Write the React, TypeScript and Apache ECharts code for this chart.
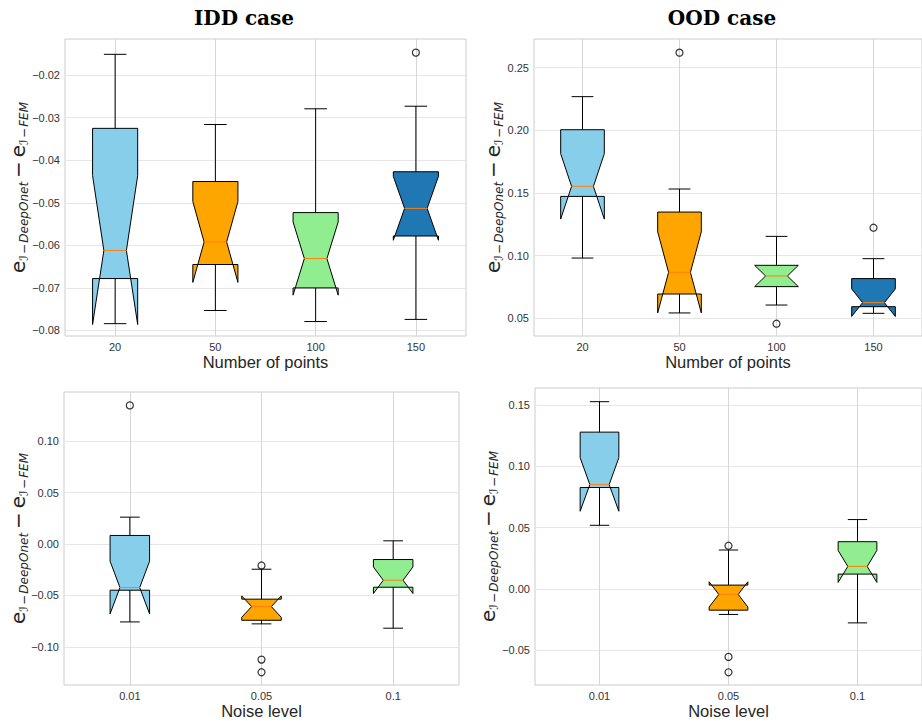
import React, { useEffect, useRef } from 'react';
import * as echarts from 'echarts';

// ---------- categories ----------
const pointCategories = ['20', '50', '100', '150'];
const noiseCategories = ['0.01', '0.05', '0.1'];
const pointColors = ['#87ceeb', '#ffa500', '#90ee90', '#1f77b4'];
const noiseColors = ['#87ceeb', '#ffa500', '#90ee90'];

// ---------- IDD case, number of points ----------
const iddPtsWhiskerLow = [-0.0784, -0.0753, -0.0779, -0.0774];
const iddPtsQ1 = [-0.0678, -0.0645, -0.0700, -0.0578];
const iddPtsMedian = [-0.0612, -0.0592, -0.0631, -0.0513];
const iddPtsQ3 = [-0.0325, -0.0450, -0.0523, -0.0427];
const iddPtsWhiskerHigh = [-0.0151, -0.0316, -0.0279, -0.0273];
const iddPtsNotchLow = [-0.0786, -0.0687, -0.0717, -0.0588];
const iddPtsNotchHigh = [-0.0436, -0.0497, -0.0545, -0.0438];
const iddPtsOutliers = [[], [], [], [-0.0147]];
const iddPtsTicks = [-0.08, -0.07, -0.06, -0.05, -0.04, -0.03, -0.02];

// ---------- OOD case, number of points ----------
const oodPtsWhiskerLow = [0.0981, 0.0543, 0.0606, 0.0540];
const oodPtsQ1 = [0.1473, 0.0694, 0.0753, 0.0593];
const oodPtsMedian = [0.1553, 0.0867, 0.0838, 0.0625];
const oodPtsQ3 = [0.2005, 0.1348, 0.0923, 0.0817];
const oodPtsWhiskerHigh = [0.2269, 0.1532, 0.1154, 0.0976];
const oodPtsNotchLow = [0.1292, 0.0543, 0.0753, 0.0515];
const oodPtsNotchHigh = [0.1814, 0.1191, 0.0923, 0.0735];
const oodPtsOutliers = [[], [0.2620], [0.0457], [0.1223]];
const oodPtsTicks = [0.05, 0.10, 0.15, 0.20, 0.25];

// ---------- IDD case, noise level ----------
const iddNoiseWhiskerLow = [-0.0757, -0.0776, -0.0818];
const iddNoiseQ1 = [-0.0449, -0.0741, -0.0420];
const iddNoiseMedian = [-0.0423, -0.0608, -0.0352];
const iddNoiseQ3 = [0.0083, -0.0536, -0.0151];
const iddNoiseWhiskerHigh = [0.0261, -0.0245, 0.0031];
const iddNoiseNotchLow = [-0.0679, -0.0712, -0.0481];
const iddNoiseNotchHigh = [-0.0167, -0.0504, -0.0223];
const iddNoiseOutliers = [[0.1347], [-0.0209, -0.1123, -0.1246], []];
const iddNoiseTicks = [-0.10, -0.05, 0.0, 0.05, 0.10];

// ---------- OOD case, noise level ----------
const oodNoiseWhiskerLow = [0.0519, -0.0210, -0.0279];
const oodNoiseQ1 = [0.0828, -0.0175, 0.0120];
const oodNoiseMedian = [0.0852, -0.0046, 0.0183];
const oodNoiseQ3 = [0.1281, 0.0030, 0.0385];
const oodNoiseWhiskerHigh = [0.1530, 0.0317, 0.0566];
const oodNoiseNotchLow = [0.0634, -0.0149, 0.0052];
const oodNoiseNotchHigh = [0.1072, 0.0057, 0.0313];
const oodNoiseOutliers = [[], [0.0352, -0.0557, -0.0683], []];
const oodNoiseTicks = [-0.05, 0.0, 0.05, 0.10, 0.15];

const titles = ['IDD case', 'OOD case'];
const xNames = ['Number of points', 'Noise level'];

type Panel = {
  cats: string[];
  colors: string[];
  low: number[]; q1: number[]; med: number[]; q3: number[]; high: number[];
  nlo: number[]; nhi: number[];
  outliers: number[][];
  ticks: number[];
  yMin: number; yMax: number;
  xName: string;
  boxWidth: number;
  grid: { left: number; top: number; width: number; height: number };
  labelX: number;
};

const panels: Panel[] = [
  {
    cats: pointCategories, colors: pointColors,
    low: iddPtsWhiskerLow, q1: iddPtsQ1, med: iddPtsMedian, q3: iddPtsQ3, high: iddPtsWhiskerHigh,
    nlo: iddPtsNotchLow, nhi: iddPtsNotchHigh, outliers: iddPtsOutliers, ticks: iddPtsTicks,
    yMin: -0.0813, yMax: -0.0115, xName: xNames[0], boxWidth: 0.45,
    grid: { left: 65, top: 39, width: 401, height: 297 }, labelX: 17.5,
  },
  {
    cats: pointCategories, colors: pointColors,
    low: oodPtsWhiskerLow, q1: oodPtsQ1, med: oodPtsMedian, q3: oodPtsQ3, high: oodPtsWhiskerHigh,
    nlo: oodPtsNotchLow, nhi: oodPtsNotchHigh, outliers: oodPtsOutliers, ticks: oodPtsTicks,
    yMin: 0.0359, yMax: 0.2729, xName: xNames[0], boxWidth: 0.45,
    grid: { left: 534, top: 39, width: 400, height: 297 }, labelX: 492.5,
  },
  {
    cats: noiseCategories, colors: noiseColors,
    low: iddNoiseWhiskerLow, q1: iddNoiseQ1, med: iddNoiseMedian, q3: iddNoiseQ3, high: iddNoiseWhiskerHigh,
    nlo: iddNoiseNotchLow, nhi: iddNoiseNotchHigh, outliers: iddNoiseOutliers, ticks: iddNoiseTicks,
    yMin: -0.1370, yMax: 0.1477, xName: xNames[1], boxWidth: 0.3,
    grid: { left: 64, top: 392, width: 395, height: 293 }, labelX: 17.5,
  },
  {
    cats: noiseCategories, colors: noiseColors,
    low: oodNoiseWhiskerLow, q1: oodNoiseQ1, med: oodNoiseMedian, q3: oodNoiseQ3, high: oodNoiseWhiskerHigh,
    nlo: oodNoiseNotchLow, nhi: oodNoiseNotchHigh, outliers: oodNoiseOutliers, ticks: oodNoiseTicks,
    yMin: -0.0787, yMax: 0.1642, xName: xNames[1], boxWidth: 0.3,
    grid: { left: 535, top: 388, width: 399, height: 297 }, labelX: 487.5,
  },
];

const fmt = (v: number) => {
  const s = (Math.abs(v) < 1e-9 ? 0 : v).toFixed(2);
  return s.replace('-', '\u2212');
};

const SANS = '"Liberation Sans", Arial, sans-serif';
const HS = '\u200a';
const TS = '\u2009';

function buildOption() {
  const grid: any[] = [];
  const xAxis: any[] = [];
  const yAxis: any[] = [];
  const series: any[] = [];
  const graphic: any[] = [];

  panels.forEach((p, k) => {
    grid.push({ ...p.grid, show: true, borderColor: '#cccccc', borderWidth: 1, backgroundColor: '#ffffff' });
    const xt = p.cats.map((_, i) => i + 1);
    xAxis.push({
      type: 'value', gridIndex: k, min: 0.5, max: p.cats.length + 0.5,
      axisLine: { show: false },
      axisTick: { show: false, customValues: xt },
      axisLabel: {
        customValues: xt,
        formatter: (v: number) => p.cats[Math.round(v) - 1] ?? '',
        fontSize: 11, color: '#333333', fontFamily: SANS, margin: 5,
      },
      splitLine: { show: true, lineStyle: { color: '#d6d6d6', width: 1 } },
      name: p.xName, nameLocation: 'middle', nameGap: 17,
      nameTextStyle: { fontSize: 16.5, color: '#262626', fontFamily: SANS },
    });
    yAxis.push({
      type: 'value', gridIndex: k, min: p.yMin, max: p.yMax,
      axisLine: { show: false },
      axisTick: { show: false, customValues: p.ticks },
      axisLabel: {
        customValues: p.ticks, formatter: (v: number) => fmt(v),
        fontSize: 11, color: '#333333', fontFamily: SANS, margin: 5,
      },
      splitLine: { show: true, lineStyle: { color: '#e6e6e6', width: 1 } },
    });

    const data = p.cats.map((_, i) => [i + 1, p.low[i], p.q1[i], p.med[i], p.q3[i], p.high[i], p.nlo[i], p.nhi[i]]);
    series.push({
      type: 'custom', xAxisIndex: k, yAxisIndex: k,
      encode: { x: 0, y: [1, 2, 3, 4, 5, 6, 7] },
      data,
      renderItem: (params: any, api: any) => {
        const x = api.value(0);
        const Y = (v: number) => api.coord([x, v])[1];
        const cx = api.coord([x, api.value(3)])[0];
        const w = api.size([p.boxWidth, 0])[0];
        const L = cx - w / 2, R = cx + w / 2, cl = cx - w / 4, cr = cx + w / 4;
        const lo = Y(api.value(1)), q1 = Y(api.value(2)), med = Y(api.value(3)), q3 = Y(api.value(4)), hi = Y(api.value(5));
        const nlo = Y(api.value(6)), nhi = Y(api.value(7));
        const capH = w / 4;
        const lineStyle = { stroke: '#000000', lineWidth: 1 };
        return {
          type: 'group',
          children: [
            { type: 'polygon', shape: { points: [[L, q1], [R, q1], [R, nlo], [cr, med], [R, nhi], [R, q3], [L, q3], [L, nhi], [cl, med], [L, nlo]] },
              style: { fill: p.colors[params.dataIndex], stroke: '#000000', lineWidth: 1 } },
            { type: 'line', shape: { x1: cx, y1: q1, x2: cx, y2: lo }, style: lineStyle },
            { type: 'line', shape: { x1: cx, y1: q3, x2: cx, y2: hi }, style: lineStyle },
            { type: 'line', shape: { x1: cx - capH, y1: lo, x2: cx + capH, y2: lo }, style: lineStyle },
            { type: 'line', shape: { x1: cx - capH, y1: hi, x2: cx + capH, y2: hi }, style: lineStyle },
            { type: 'line', shape: { x1: cl, y1: med, x2: cr, y2: med }, style: { stroke: '#ff7f0e', lineWidth: 1 } },
          ],
        };
      },
    });

    const outData: number[][] = [];
    p.outliers.forEach((arr, i) => arr.forEach((v) => outData.push([i + 1, v])));
    series.push({
      type: 'scatter', xAxisIndex: k, yAxisIndex: k, data: outData,
      symbol: 'circle', symbolSize: 7,
      itemStyle: { color: 'rgba(0,0,0,0)', borderColor: '#000000', borderWidth: 1.2 },
    });

    graphic.push({
      type: 'text', x: p.labelX, y: p.grid.top + p.grid.height / 2, rotation: Math.PI / 2,
      style: {
        text: `{e|e}{s|\u2110${HS}\u2212${HS}DeepOnet}{e|${TS}\u2212${TS}e}{s|\u2110${HS}\u2212${HS}FEM}`,
        align: 'center', verticalAlign: 'middle', textAlign: 'center', textVerticalAlign: 'middle',
        fill: '#262626',
        rich: {
          e: { fontSize: 20, fontFamily: '"DejaVu Sans"', lineHeight: 24, verticalAlign: 'middle', fill: '#262626', color: '#262626' },
          s: { fontSize: 12, fontFamily: '"DejaVu Sans"', fontStyle: 'italic', lineHeight: 10, verticalAlign: 'bottom', fill: '#262626', color: '#262626' },
        },
      },
    });
  });

  graphic.push({
    type: 'text', x: 244, y: 18,
    style: { text: titles[0], font: 'bold 20px "DejaVu Serif"', fill: '#000', align: 'center', verticalAlign: 'middle', textAlign: 'center', textVerticalAlign: 'middle' },
  });
  graphic.push({
    type: 'text', x: 722, y: 18,
    style: { text: titles[1], font: 'bold 20px "DejaVu Serif"', fill: '#000', align: 'center', verticalAlign: 'middle', textAlign: 'center', textVerticalAlign: 'middle' },
  });

  return { animation: false, backgroundColor: '#ffffff', grid, xAxis, yAxis, series, graphic };
}

export default function App() {
  const ref = useRef<HTMLDivElement>(null);
  useEffect(() => {
    if (!ref.current) return;
    const chart = echarts.init(ref.current, undefined, { renderer: 'svg' });
    chart.setOption(buildOption() as any);
    return () => chart.dispose();
  }, []);
  return <div ref={ref} style={{ position: 'absolute', left: 0, top: 0, width: 922, height: 721 }} />;
}
